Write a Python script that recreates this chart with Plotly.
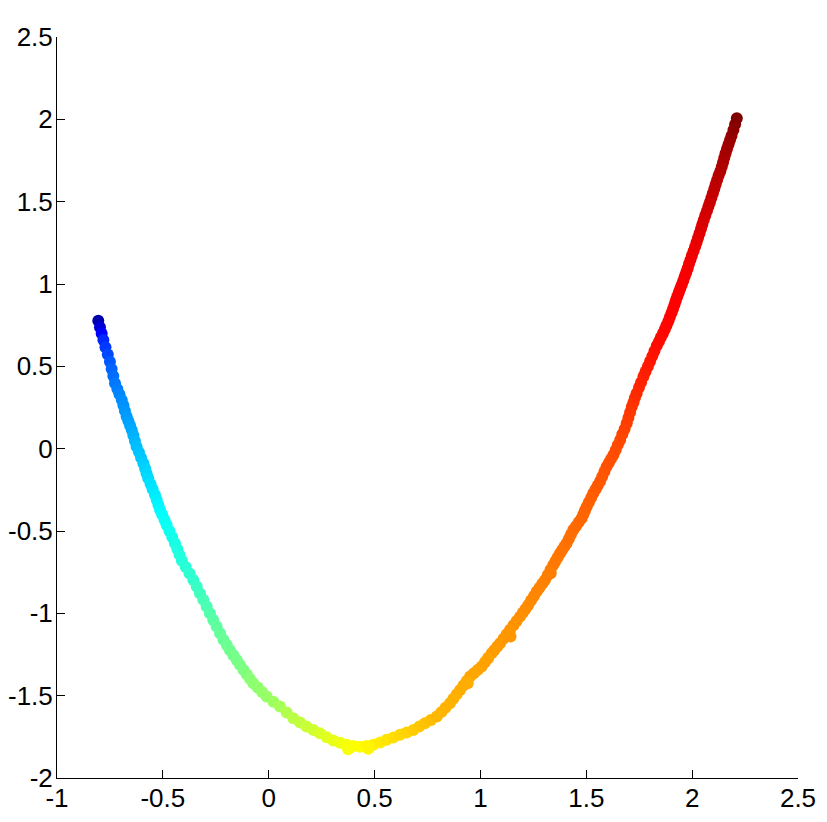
#!/bin/env python
"""
Scatter of a curved 2-D embedding, coloured with a MATLAB style jet map.
"""
import plotly.graph_objects as go

# points, in draw order along the curve,
# with a few stray points from the thick parts of the band at the end
x_values = [
    -0.805, -0.797, -0.789, -0.781, -0.771, -0.760, -0.750, -0.742, -0.734,
    -0.726, -0.715, -0.705, -0.694, -0.686, -0.679, -0.671, -0.663, -0.655,
    -0.647, -0.639, -0.632, -0.624, -0.613, -0.603, -0.592, -0.584, -0.577,
    -0.569, -0.558, -0.548, -0.537, -0.529, -0.521, -0.513, -0.503, -0.492,
    -0.482, -0.469, -0.456, -0.443, -0.432, -0.421, -0.410, -0.392, -0.374,
    -0.356, -0.340, -0.325, -0.309, -0.293, -0.278, -0.262, -0.246, -0.230,
    -0.214, -0.198, -0.183, -0.167, -0.151, -0.136, -0.120, -0.104, -0.089,
    -0.073, -0.052, -0.031, -0.010,
    0.022, 0.053, 0.085, 0.116, 0.148, 0.179, 0.211, 0.242, 0.274, 0.305,
    0.337, 0.368, 0.400, 0.431, 0.463, 0.494, 0.526, 0.557, 0.589, 0.620,
    0.652, 0.683, 0.711, 0.738, 0.766, 0.794,
    0.815, 0.835, 0.856, 0.872, 0.888, 0.904, 0.920, 0.935, 0.951,
    0.969, 0.988, 1.006, 1.022, 1.037, 1.053, 1.066, 1.080, 1.093,
    1.109, 1.124, 1.140, 1.156, 1.171, 1.187, 1.200, 1.213, 1.226,
    1.239, 1.253, 1.266, 1.279, 1.292, 1.305, 1.318, 1.331, 1.344,
    1.355, 1.365, 1.376, 1.386, 1.397, 1.407, 1.418, 1.428, 1.439,
    1.452, 1.465, 1.478, 1.486, 1.494, 1.502, 1.512, 1.523, 1.533,
    1.544, 1.554, 1.565, 1.575, 1.586, 1.596, 1.607, 1.617, 1.628,
    1.639, 1.649, 1.660, 1.670, 1.681, 1.691, 1.699, 1.707, 1.715,
    1.723, 1.730, 1.738, 1.749, 1.759, 1.770, 1.780, 1.791, 1.801,
    1.812, 1.822, 1.833, 1.843, 1.852, 1.862, 1.871, 1.879, 1.888,
    1.895, 1.903, 1.910, 1.917, 1.923, 1.930, 1.937, 1.944, 1.951,
    1.958, 1.965, 1.972, 1.979, 1.985, 1.992, 1.999, 2.007, 2.014,
    2.021, 2.028, 2.035, 2.042, 2.048, 2.055, 2.062, 2.070, 2.077,
    2.084, 2.091, 2.098, 2.105, 2.111, 2.118, 2.125, 2.133, 2.140,
    2.146, 2.152, 2.158, 2.165, 2.172, 2.179, 2.186, 2.195, 2.203, 2.211,
    0.375, 0.470, 0.940, 1.035, 1.142, 1.332,
]

y_values = [
    0.777, 0.738, 0.699, 0.660, 0.616, 0.572, 0.528, 0.484, 0.441,
    0.397, 0.363, 0.330, 0.296, 0.262, 0.229, 0.195, 0.168, 0.141,
    0.114, 0.080, 0.046, 0.012, -0.021, -0.055, -0.088, -0.119, -0.149,
    -0.180, -0.214, -0.247, -0.281, -0.311, -0.342, -0.372, -0.402, -0.433,
    -0.463, -0.500, -0.537, -0.574, -0.609, -0.645, -0.680, -0.719, -0.758,
    -0.797, -0.837, -0.878, -0.918, -0.959, -0.999, -1.040, -1.080, -1.121,
    -1.161, -1.192, -1.224, -1.255, -1.284, -1.313, -1.343, -1.370, -1.397,
    -1.424, -1.451, -1.478, -1.505,
    -1.537, -1.566, -1.602, -1.637, -1.663, -1.688, -1.709, -1.728, -1.752,
    -1.772, -1.786, -1.798, -1.806, -1.810, -1.806, -1.798, -1.784, -1.768,
    -1.754, -1.738, -1.724, -1.708, -1.688, -1.667, -1.648, -1.627,
    -1.600, -1.573, -1.546, -1.519, -1.492, -1.465, -1.438, -1.411, -1.384,
    -1.364, -1.343, -1.323, -1.296, -1.269, -1.242, -1.222, -1.201, -1.181,
    -1.154, -1.127, -1.100, -1.073, -1.047, -1.020, -0.996, -0.973, -0.949,
    -0.922, -0.895, -0.868, -0.844, -0.821, -0.797, -0.767, -0.736, -0.706,
    -0.682, -0.659, -0.635, -0.615, -0.594, -0.574, -0.547, -0.520, -0.493,
    -0.469, -0.446, -0.422, -0.399, -0.375, -0.352, -0.325, -0.298, -0.271,
    -0.247, -0.224, -0.200, -0.170, -0.139, -0.109, -0.085, -0.062, -0.038,
    -0.008, 0.023, 0.053, 0.087, 0.120, 0.154, 0.188, 0.221, 0.255,
    0.282, 0.310, 0.337, 0.371, 0.404, 0.438, 0.469, 0.499, 0.530,
    0.562, 0.593, 0.625, 0.650, 0.675, 0.700, 0.725, 0.750, 0.775,
    0.800, 0.825, 0.850, 0.875, 0.900, 0.925, 0.948, 0.972, 0.995,
    1.020, 1.045, 1.070, 1.095, 1.121, 1.146, 1.173, 1.200, 1.227,
    1.254, 1.281, 1.308, 1.335, 1.362, 1.389, 1.416, 1.443, 1.470,
    1.497, 1.524, 1.551, 1.578, 1.605, 1.632, 1.659, 1.685, 1.712,
    1.739, 1.767, 1.794, 1.821, 1.848, 1.875, 1.900, 1.935, 1.970, 2.006,
    -1.825, -1.822, -1.425, -1.275, -1.140, -0.757,
]

# colour value of each point (0 = dark blue, 1 = dark red)
color_values = [
    0.030, 0.070, 0.110, 0.150, 0.167, 0.183, 0.200, 0.210, 0.220,
    0.230, 0.237, 0.243, 0.250, 0.255, 0.260, 0.265, 0.270, 0.275,
    0.280, 0.287, 0.293, 0.300, 0.305, 0.310, 0.315, 0.320, 0.325,
    0.330, 0.335, 0.340, 0.345, 0.350, 0.355, 0.360, 0.365, 0.370,
    0.375, 0.380, 0.385, 0.390, 0.393, 0.397, 0.400, 0.405, 0.410,
    0.415, 0.422, 0.428, 0.435, 0.442, 0.448, 0.455, 0.460, 0.465,
    0.470, 0.473, 0.477, 0.480, 0.483, 0.487, 0.490, 0.495, 0.500,
    0.505, 0.508, 0.512, 0.515,
    0.522, 0.530, 0.540, 0.550, 0.557, 0.565, 0.572, 0.580, 0.588,
    0.595, 0.603, 0.610, 0.615, 0.620, 0.627, 0.633, 0.640, 0.646,
    0.652, 0.658, 0.664, 0.670, 0.675, 0.680, 0.685, 0.690,
    0.692, 0.693, 0.695, 0.697, 0.698, 0.700, 0.702, 0.703, 0.705,
    0.707, 0.708, 0.710, 0.712, 0.713, 0.715, 0.717, 0.718, 0.720,
    0.722, 0.723, 0.725, 0.727, 0.728, 0.730, 0.732, 0.733, 0.735,
    0.737, 0.738, 0.740, 0.742, 0.743, 0.745, 0.747, 0.748, 0.750,
    0.752, 0.753, 0.755, 0.757, 0.758, 0.760, 0.762, 0.763, 0.765,
    0.767, 0.768, 0.770, 0.772, 0.773, 0.775, 0.777, 0.778, 0.780,
    0.782, 0.783, 0.785, 0.787, 0.788, 0.790, 0.792, 0.793, 0.795,
    0.797, 0.798, 0.800, 0.803, 0.807, 0.810, 0.813, 0.817, 0.820,
    0.823, 0.827, 0.830, 0.833, 0.837, 0.840, 0.843, 0.847, 0.850,
    0.853, 0.857, 0.860, 0.862, 0.863, 0.865, 0.866, 0.867, 0.868,
    0.869, 0.871, 0.872, 0.873, 0.874, 0.875, 0.876, 0.877, 0.878,
    0.879, 0.880, 0.881, 0.882, 0.884, 0.885, 0.887, 0.888, 0.890,
    0.893, 0.897, 0.900, 0.903, 0.907, 0.910, 0.913, 0.917, 0.920,
    0.923, 0.927, 0.930, 0.933, 0.937, 0.940, 0.943, 0.947, 0.950,
    0.953, 0.957, 0.960, 0.963, 0.967, 0.970, 0.977, 0.985, 0.992, 1.000,
    0.612, 0.627, 0.700, 0.712, 0.724, 0.748,
]

x_ticks = [-1, -0.5, 0, 0.5, 1, 1.5, 2, 2.5]
x_tick_labels = ["-1", "-0.5", "0", "0.5", "1", "1.5", "2", "2.5"]
y_ticks = [-2, -1.5, -1, -0.5, 0, 0.5, 1, 1.5, 2, 2.5]
y_tick_labels = ["-2", "-1.5", "-1", "-0.5", "0", "0.5", "1", "1.5", "2", "2.5"]

assert len(x_values) == len(y_values) == len(color_values)

# MATLAB's jet, not plotly's own "Jet"
jet = [
    [0.0, "rgb(0,0,143)"],
    [0.111, "rgb(0,0,255)"],
    [0.365, "rgb(0,255,255)"],
    [0.619, "rgb(255,255,0)"],
    [0.873, "rgb(255,0,0)"],
    [1.0, "rgb(128,0,0)"],
]

figure = go.Figure(
    go.Scatter(
        x=x_values,
        y=y_values,
        mode="markers",
        marker=dict(
            size=12,
            color=color_values,
            colorscale=jet,
            cmin=0,
            cmax=1,
            line=dict(width=0),
        ),
        showlegend=False,
    )
)

axis_style = dict(
    ticks="inside",
    ticklen=8,
    tickcolor="black",
    tickwidth=1,
    showline=True,
    linecolor="black",
    linewidth=1,
    showgrid=False,
    zeroline=False,
    automargin=False,
    tickfont=dict(family="Liberation Sans", size=26, color="black"),
)

# the page body adds 8px round the figure, so the figure is a bit
# smaller than the window and the margins are taken from that
figure.update_layout(
    width=811,
    height=806,
    margin=dict(l=49, r=21, t=29, b=36),
    paper_bgcolor="white",
    plot_bgcolor="white",
    xaxis=dict(
        range=[-1, 2.5],
        tickvals=x_ticks,
        ticktext=x_tick_labels,
        ticklabelstandoff=-3,
        **axis_style
    ),
    yaxis=dict(
        range=[-2, 2.5],
        tickvals=y_ticks,
        ticktext=y_tick_labels,
        ticklabelstandoff=-2,
        **axis_style
    ),
)

figure.write_html("out.html")
